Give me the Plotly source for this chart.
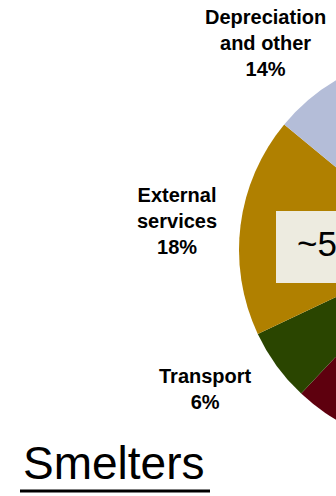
import plotly.graph_objects as go

# Data (shares in %, clockwise from 12 o'clock)
labels = ["Raw materials & energy", "Personnel", "Transport", "External services", "Depreciation and other"]
values = [42, 20, 6, 18, 14]
colors = ["#8C8C8C", "#5E000E", "#2A4500", "#B08000", "#B4BDD8"]

# Visible label texts
label_texts = {
    "Depreciation and other": "<b>Depreciation<br>and other<br>14%</b>",
    "External services": "<b>External<br>services<br>18%</b>",
    "Transport": "<b>Transport<br>6%</b>",
}
center_text = "~5 bn USD"
title_text = "Smelters"

W, H = 672, 496

def px(x):
    return x / W

def py(y):
    return 1 - y / H

fig = go.Figure()
fig.add_trace(go.Pie(
    labels=labels,
    values=values,
    sort=False,
    direction="clockwise",
    rotation=0,
    textinfo="none",
    hoverinfo="label+percent",
    marker=dict(colors=colors, line=dict(width=0)),
    domain=dict(x=[px(239), px(633)], y=[py(447), py(53)]),
    showlegend=False,
))

lab_font = dict(family="Arial, Liberation Sans, sans-serif", size=20, color="black")
annots = [
    dict(text=label_texts["Depreciation and other"], x=px(265), y=py(43)),
    dict(text=label_texts["External services"], x=px(177), y=py(221)),
    dict(text=label_texts["Transport"], x=px(205), y=py(389)),
]
for a in annots:
    fig.add_annotation(xref="paper", yref="paper", showarrow=False,
                       xanchor="center", yanchor="middle", align="center",
                       font=lab_font, **a)

fig.add_shape(type="rect", xref="paper", yref="paper",
              x0=px(276), x1=px(600), y0=py(283), y1=py(211),
              fillcolor="#EDEBE0", line=dict(width=0), layer="above")
fig.add_annotation(xref="paper", yref="paper", showarrow=False,
                   x=px(295), y=py(243), xanchor="left", yanchor="middle",
                   text=center_text,
                   font=dict(family="Arial, Liberation Sans, sans-serif", size=35, color="black"))

fig.add_annotation(xref="paper", yref="paper", showarrow=False,
                   x=px(21), y=py(463), xanchor="left", yanchor="middle",
                   text=title_text,
                   font=dict(family="Arial, Liberation Sans, sans-serif", size=46, color="black"))
fig.add_shape(type="line", xref="paper", yref="paper",
              x0=px(20), x1=px(210), y0=py(491), y1=py(491),
              line=dict(color="black", width=3))

fig.update_layout(
    width=W, height=H,
    margin=dict(l=0, r=0, t=0, b=0),
    paper_bgcolor="white", plot_bgcolor="white",
)

fig.write_html("out.html",
               post_script="document.documentElement.style.overflow='hidden';document.body.style.overflow='hidden';document.body.style.margin='0';")
